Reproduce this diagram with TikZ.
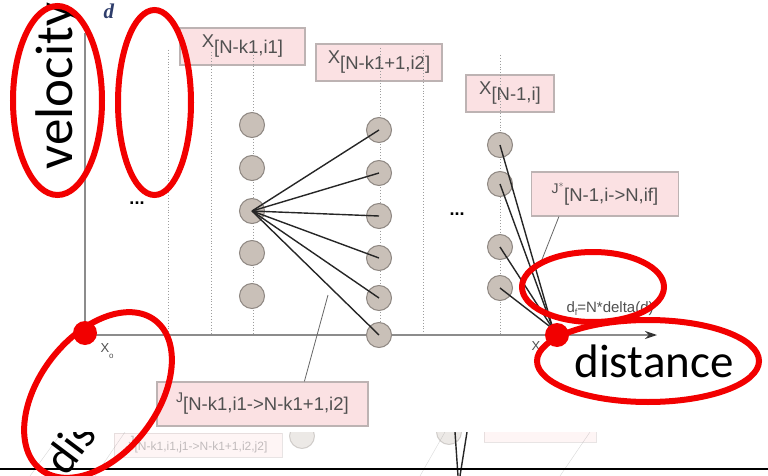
\documentclass[tikz,border=0pt]{standalone}
\usepackage{fontspec}
\setmainfont{Liberation Sans}
\newfontfamily\slidefont{Carlito}
\newfontfamily\serifd{Liberation Serif}
\usetikzlibrary{arrows.meta,calc}

\definecolor{boxpink}{HTML}{FBE1E3}
\definecolor{boxedge}{HTML}{BDB3B3}
\definecolor{labelgray}{HTML}{505050}
\definecolor{statefill}{HTML}{C9C0B8}
\definecolor{stateedge}{HTML}{8E8782}
\definecolor{axisgray}{HTML}{8C8C8C}
\definecolor{markred}{HTML}{F20000}
\definecolor{mathblue}{HTML}{2E3D6B}

\newcommand\lowsub[1]{\raisebox{-6pt}{#1}}

\tikzset{
  lbl/.style={draw=boxedge, fill=boxpink, line width=1.2pt, inner sep=0pt,
              text=labelgray, font=\fontsize{18.5}{20}\selectfont},
  state/.style={circle, draw=stateedge, fill=statefill, line width=1pt,
                minimum size=25pt, inner sep=0pt},
  guide/.style={draw=axisgray!85, dotted, line width=0.9pt},
  trans/.style={draw=black!85, line width=1.4pt},
  lead/.style={draw=black!60, line width=0.8pt},
  ring/.style={draw=markred, line width=6pt},
  axisline/.style={draw=axisgray, line width=1.5pt},
  faint/.style={opacity=0.35},
}

\begin{document}
\begin{tikzpicture}[x=1pt,y=-1pt]
\useasboundingbox (0,0) rectangle (768,476);
\clip (0,0) rectangle (768,476);

% ---- label boxes ----
\node[lbl, minimum width=125pt, minimum height=37pt] (xa) at (242.5,46.5)
  {X\lowsub{[N-k1,i1]}};
\node[lbl, minimum width=126pt, minimum height=37pt] (xb) at (379,62.5)
  {X\lowsub{[N-k1+1,i2]}};
\node[lbl, minimum width=88pt, minimum height=37pt] (xc) at (510,93.5)
  {X\lowsub{[N-1,i]}};
\node[lbl, minimum width=147pt, minimum height=44pt] (jstar) at (605,194)
  {\raisebox{2pt}{\fontsize{14}{14}\selectfont J$^{*}$}\lowsub{[N-1,i->N,if]}};
\node[lbl, minimum width=211pt, minimum height=44pt] (jbox) at (262.5,404)
  {\raisebox{2pt}{\fontsize{14}{14}\selectfont J}\lowsub{[N-k1,i1->N-k1+1,i2]}};

% ---- dotted stage guides ----
\foreach \gx/\gt in {168/50, 211/52, 253/52, 380/48, 423/50, 500/55}
  \draw[guide] (\gx,\gt) -- (\gx,335);

% ---- axes ----
\draw[axisline, -{Stealth[length=12pt,width=8pt,color=black!80]}]
  (85,33) -- (85,335) -- (657,335);

% ---- states ----
\foreach \k/\yy in {1/125, 2/168, 3/211, 4/253, 5/296}
  \node[state] (a\k) at (252,\yy) {};
\foreach \k/\yy in {1/130, 2/173, 3/216, 4/258, 5/298, 6/335}
  \node[state] (b\k) at (379,\yy) {};
\foreach \k/\yy in {1/145, 2/184, 3/247, 4/288}
  \node[state] (c\k) at (500,\yy) {};
\coordinate (fin) at (553,329);

% ---- transitions ----
\foreach \k in {1,...,6}
  \draw[trans] (a3.center) -- (b\k.center);
\foreach \k in {1,...,4}
  \draw[trans] (c\k.center) -- (fin);

% ---- leaders ----
\coordinate (jtip) at (328,295);
\draw[lead] ($(jbox.north west)+(148,0)$) -- (jtip);
\coordinate (jstip) at (541,262);
\draw[lead] ($(jstar.south west)+(28,0)$) -- (jstip);

% ---- texts ----
\node[font=\fontsize{18}{18}\selectfont\bfseries] (dotsl) at (137,203) {...};
\node[font=\fontsize{18}{18}\selectfont\bfseries] (dotsr) at (457,214) {...};
\node[anchor=base west, text=labelgray, font=\fontsize{13}{13}\selectfont]
  (x0) at (97,352) {X\lowsub{\fontsize{8}{8}\selectfont o}};
\node[anchor=base west, text=labelgray, font=\fontsize{13}{13}\selectfont]
  (xn) at (528,350) {X};
\node[anchor=base west, text=labelgray, font=\fontsize{15}{15}\selectfont]
  (df) at (563,312) {d\raisebox{-3pt}{\fontsize{9}{9}\selectfont f}=N*delta(d)};
\node[anchor=base west, text=mathblue,
      font=\fontsize{21}{21}\serifd\bfseries\itshape] (dvar) at (100,19) {d};
\node[anchor=base, rotate=90, font=\fontsize{53}{53}\slidefont] (vel)
  at (72,86) {velocity};
\node[anchor=base, font=\fontsize{47}{47}\slidefont] (dist)
  at (654,377) {distance};

% ---- faded strip of the following slide ----
\begin{scope}
  \clip (0,432) rectangle (768,476);
  \begin{scope}[faint]
    \node[draw=boxedge, fill=boxpink, minimum width=168pt, minimum height=24pt,
          inner sep=0pt, text=labelgray, font=\fontsize{12}{12}\selectfont]
      (jold) at (198,445) {J\lowsub{[N-k1,i1,j1->N-k1+1,i2,j2]}};
    \node[draw=boxedge, fill=boxpink, minimum width=112pt, minimum height=24pt,
          inner sep=0pt] (jold2) at (540,430) {};
    \node[state] (oldst) at (302,436) {};
    \node[state] (oldst2) at (449,432) {};
    \coordinate (sa) at (30,476); \coordinate (sb) at (62,432);
    \draw[draw=axisgray] (sa) -- (sb);
    \coordinate (sc) at (95,476); \coordinate (sd) at (125,432);
    \draw[draw=axisgray] (sc) -- (sd);
    \coordinate (se) at (560,476); \coordinate (sf) at (590,432);
    \draw[draw=axisgray] (se) -- (sf);
    \coordinate (sg) at (420,476); \coordinate (sh) at (445,432);
    \draw[draw=axisgray] (sg) -- (sh);
  \end{scope}
  \coordinate (la) at (455,432); \coordinate (lb) at (458,476);
  \coordinate (lc) at (467,432); \coordinate (ld) at (460,476);
  \draw[trans] (la) -- (lb);
  \draw[trans] (lc) -- (ld);
  \node[anchor=base west, rotate=53, font=\fontsize{46}{46}\slidefont] (dis)
    at (64,480) {distance};
\end{scope}
\coordinate (rl) at (0,469); \coordinate (rr) at (768,469);
\draw[black, line width=1.4pt] (rl) -- (rr);

% ---- red highlighting ----
\fill[markred] (85,333) circle (12pt);
\fill[markred] (557,335) circle (12pt);
\draw[ring] (57.5,100.5) ellipse [x radius=44.5pt, y radius=94.5pt];
\draw[ring] (154.5,102.5) ellipse [x radius=36.5pt, y radius=92.5pt];
\draw[ring, rotate around={52.6:(98,395)}] (98,395)
  ellipse [x radius=94pt, y radius=59pt];
\draw[ring] (593,287) ellipse [x radius=71pt, y radius=35pt];
\draw[ring] (648,361) ellipse [x radius=111pt, y radius=41pt];
\end{tikzpicture}
\end{document}
